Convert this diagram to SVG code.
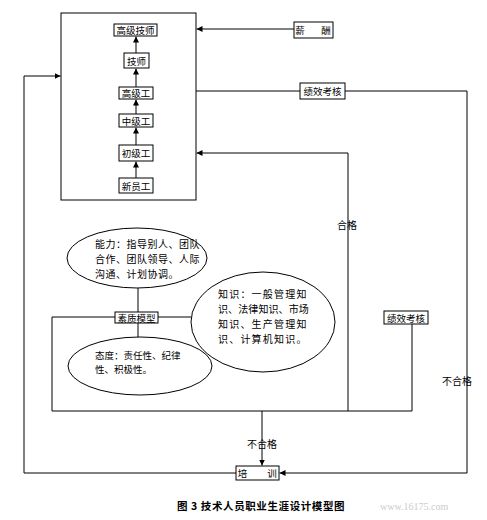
<svg xmlns="http://www.w3.org/2000/svg" width="487" height="520" viewBox="0 0 487 520">
<style>
.box{fill:#fff;stroke:#000;stroke-width:1}
.ln{fill:none;stroke:#000;stroke-width:1}
.t{font-family:"Noto Sans CJK SC","Noto Sans",sans-serif;font-size:9.5px;fill:#000}
.c{text-anchor:middle;dominant-baseline:central}
.e{font-size:10px}
.ell{fill:none;stroke:#000;stroke-width:1}
</style>
<defs>
<marker id="ah" viewBox="0 0 8 8" refX="8" refY="4" markerWidth="6" markerHeight="6" markerUnits="userSpaceOnUse" orient="auto">
<path d="M0,0 L8,4 L0,8 Z" fill="#000"/>
</marker>
</defs>
<rect width="487" height="520" fill="#fff"/>

<g id="connectors">
<line class="ln" x1="136" y1="178" x2="136" y2="161.5" marker-end="url(#ah)"/>
<line class="ln" x1="136" y1="145" x2="136" y2="127.5" marker-end="url(#ah)"/>
<line class="ln" x1="136" y1="114" x2="136" y2="99.5" marker-end="url(#ah)"/>
<line class="ln" x1="136" y1="87" x2="136" y2="68.5" marker-end="url(#ah)"/>
<line class="ln" x1="136" y1="53" x2="136" y2="36.5" marker-end="url(#ah)"/>
<line class="ln" x1="294" y1="29" x2="196.5" y2="29" marker-end="url(#ah)"/>
<polyline class="ln" points="236,473 24,473 24,76 60.5,76" marker-end="url(#ah)"/>
<line class="ln" x1="196" y1="91" x2="300" y2="91"/>
<polyline class="ln" points="345,91 467,91 467,473 279.5,473" marker-end="url(#ah)"/>
<polyline class="ln" points="348,411 348,153 196.5,153" marker-end="url(#ah)"/>
<polyline class="ln" points="115,317 52,317 52,411 412,411 412,324"/>
<line class="ln" x1="158" y1="317" x2="191" y2="317"/>
<line class="ln" x1="138" y1="288" x2="138" y2="312"/>
<line class="ln" x1="138" y1="323" x2="138" y2="337"/>
<line class="ln" x1="262" y1="411" x2="262" y2="465.5" marker-end="url(#ah)"/>
</g>

<g id="career-frame"><rect class="ln" x="61" y="13" width="135" height="187"/></g>

<g id="n-gaojijishi"><rect class="box" x="114" y="24" width="43" height="12"/><text class="t c" x="135.5" y="30">高级技师</text></g>
<g id="n-jishi"><rect class="box" x="124" y="53" width="25" height="15"/><text class="t c" x="136.5" y="60.5">技师</text></g>
<g id="n-gaojigong"><rect class="box" x="119" y="87" width="34" height="12"/><text class="t c" x="136" y="93">高级工</text></g>
<g id="n-zhongjigong"><rect class="box" x="119" y="114" width="34" height="13"/><text class="t c" x="136" y="120.5">中级工</text></g>
<g id="n-chujigong"><rect class="box" x="119" y="145" width="34" height="16"/><text class="t c" x="136" y="153">初级工</text></g>
<g id="n-xinyuangong"><rect class="box" x="119" y="178" width="34" height="15"/><text class="t c" x="136" y="185.5">新员工</text></g>

<g id="n-xinchou"><rect class="box" x="294" y="22" width="39" height="16"/><text class="t c" y="30"><tspan x="300">薪</tspan><tspan x="326">酬</tspan></text></g>
<g id="n-jixiao1"><rect class="box" x="300" y="83" width="45" height="16"/><text class="t c" x="322.5" y="91">绩效考核</text></g>
<g id="n-jixiao2"><rect class="box" x="384" y="311" width="44" height="13"/><text class="t c" x="406" y="317.5">绩效考核</text></g>
<g id="n-peixun"><rect class="box" x="236" y="466" width="43" height="14"/><text class="t c" y="473"><tspan x="242.5">培</tspan><tspan x="272">训</tspan></text></g>

<g id="n-nengli"><ellipse class="ell" cx="137" cy="258" rx="70" ry="30"/>
<text class="t e" x="95" y="248" style="letter-spacing:0.5px">能力：指导别人、团队</text>
<text class="t e" x="95" y="263" style="letter-spacing:0.5px">合作、团队领导、人际</text>
<text class="t e" x="95" y="278" style="letter-spacing:0.5px">沟通、计划协调。</text></g>
<g id="n-suzhi"><rect class="box" x="115" y="312" width="43" height="11"/><text class="t c" x="136.5" y="317.5">素质模型</text></g>
<g id="n-taidu"><ellipse class="ell" cx="140" cy="366" rx="72" ry="29"/>
<text class="t" x="95" y="359">态度：责任性、纪律</text>
<text class="t" x="95" y="373">性、积极性。</text></g>
<g id="n-zhishi"><ellipse class="ell" cx="263" cy="322" rx="72" ry="50"/>
<text class="t e" x="218" y="298" style="letter-spacing:1.2px">知识：一般管理知</text>
<text class="t e" x="218" y="313" style="letter-spacing:0.1px">识、法律知识、市场</text>
<text class="t e" x="218" y="328" style="letter-spacing:1.2px">知识、生产管理知</text>
<text class="t e" x="218" y="343" style="letter-spacing:1.2px">识、计算机知识。</text></g>

<g id="labels">
<text class="t c" x="347" y="224" style="font-size:10px">合格</text>
<text class="t c" x="457" y="380" style="font-size:10px">不合格</text>
<text class="t c" x="262" y="443" style="font-size:10px">不合格</text>
<text class="t" x="177" y="510" style="font-size:10.5px;font-weight:bold;letter-spacing:0.6px">图 3  技术人员职业生涯设计模型图</text>
<text x="380" y="510" style="font-family:'Liberation Serif',serif;font-size:10px;fill:#ccc">www.16175.com</text>
</g>
</svg>
